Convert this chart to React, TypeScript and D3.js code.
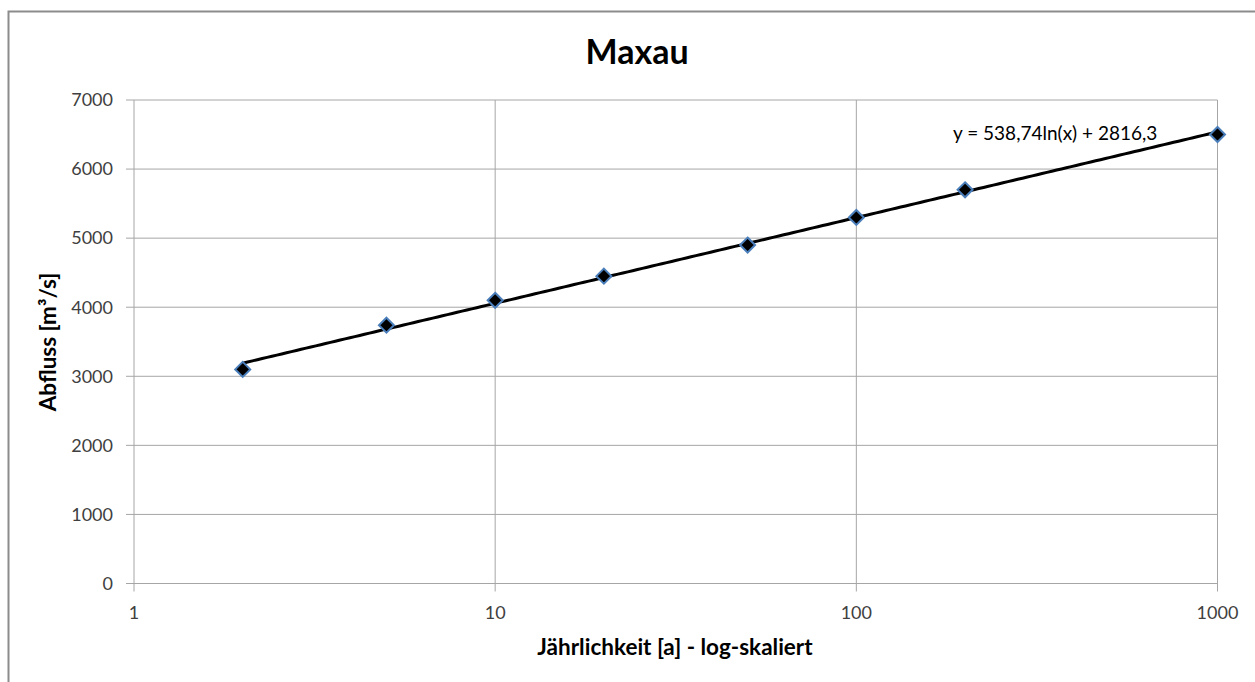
import React from "react";
import * as d3 from "d3";

const returnPeriods = [2, 5, 10, 20, 50, 100, 200, 1000];
const discharge = [3100, 3740, 4100, 4450, 4900, 5300, 5700, 6500];
const xTicks = [1, 10, 100, 1000];
const yTicks = [0, 1000, 2000, 3000, 4000, 5000, 6000, 7000];
const trendA = 538.74;
const trendB = 2816.3;
const trendLabel = "y = 538,74ln(x) + 2816,3";
const title = "Maxau";
const xTitle = "Jährlichkeit [a] - log-skaliert";
const yTitle = "Abfluss [m³/s]";

export default function App() {
  const W = 1255, H = 682;
  const L = 134, R = 1217.5, T = 100, B = 583.5;
  const x = d3.scaleLog().domain([1, 1000]).range([L, R]);
  const y = d3.scaleLinear().domain([0, 7000]).range([B, T]);
  const trendXs = d3.range(0, 201).map((i) => Math.pow(10, Math.log10(2) + (i / 200) * (3 - Math.log10(2))));
  const trend = d3.line<number>().x((v) => x(v)).y((v) => y(trendA * Math.log(v) + trendB))(trendXs);
  const font = "Lato, 'Open Sans', sans-serif";
  const grid = "#a6a6a6";
  return (
    <svg width={W} height={H} style={{ position: "absolute", left: 0, top: 0 }} fontFamily={font}>
      <rect x={0} y={0} width={W} height={H} fill="#fff" />
      <path d={`M8.5,${H + 5}V11.5H${W + 5}`} fill="none" stroke="#8c8c8c" strokeWidth={2} />
      <text x={637} y={64} textAnchor="middle" fontSize={34} fontWeight="bold" fill="#000">{title}</text>
      {yTicks.map((t) => (
        <g key={"y" + t}>
          <line x1={L - 8} x2={R} y1={y(t)} y2={y(t)} stroke={grid} strokeWidth={1} />
          <text x={113} y={y(t)} dy="0.35em" textAnchor="end" fontSize={18} fill="#404040">{t}</text>
        </g>
      ))}
      {xTicks.map((t) => (
        <g key={"x" + t}>
          <line x1={x(t)} x2={x(t)} y1={T} y2={B + 8} stroke={grid} strokeWidth={1} />
          <text x={x(t)} y={613} dy="0.35em" textAnchor="middle" fontSize={18} fill="#404040">{t}</text>
        </g>
      ))}
      <line x1={R} x2={R} y1={T} y2={B} stroke={grid} strokeWidth={1} />
      <path d={trend || ""} fill="none" stroke="#000" strokeWidth={3} />
      {returnPeriods.map((p, i) => {
        const cx = x(p), cy = y(discharge[i]);
        const s = 7.5;
        return (
          <path key={"m" + p}
            d={`M${cx},${cy - s}L${cx + s},${cy}L${cx},${cy + s}L${cx - s},${cy}Z`}
            fill="#000" stroke="#4a7ebb" strokeWidth={2} />
        );
      })}
      <text x={953} y={133} dy="0.35em" fontSize={19} fill="#000">{trendLabel}</text>
      <text x={675} y={655} textAnchor="middle" fontSize={22.5} fontWeight="bold" fill="#000">{xTitle}</text>
      <text transform={`translate(48,342) rotate(-90)`} dy="0.35em" textAnchor="middle" fontSize={22.5} fontWeight="bold" fill="#000">{yTitle}</text>
    </svg>
  );
}
